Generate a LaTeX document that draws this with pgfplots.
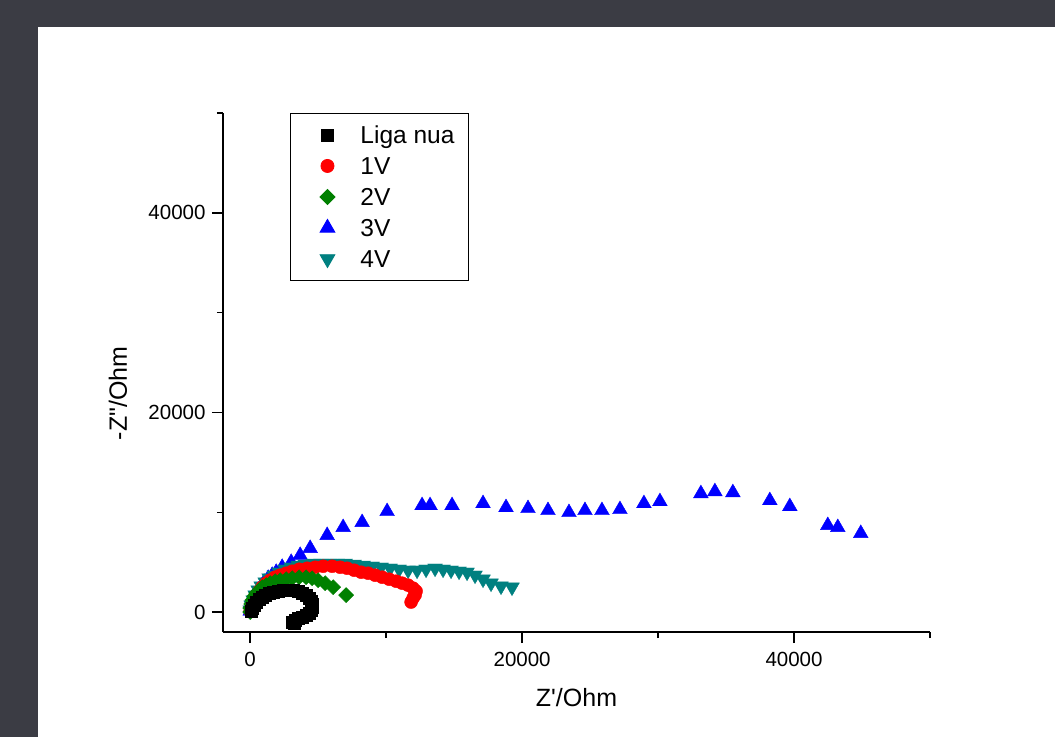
\documentclass[border=0pt]{standalone}
\usepackage{fontspec}
\setmainfont{Liberation Sans}[Ligatures=TeXOff]
\usepackage{pgfplots}
\pgfplotsset{compat=1.18}

\definecolor{framegray}{RGB}{59,60,68}
\definecolor{tealmark}{RGB}{0,128,128}
\definecolor{greenmark}{RGB}{0,128,0}

\pgfplotsset{
  liga/.style={only marks, mark=square*, mark size=6pt, black},
  v1/.style={only marks, mark=*, mark size=6.5pt, red},
  v2/.style={only marks, mark=square*, mark size=5.3pt, mark options={rotate=45}, greenmark},
  v3/.style={only marks, mark=triangle*, mark size=8.5pt, blue},
  v4/.style={only marks, mark=triangle*, mark size=8.5pt, mark options={rotate=180}, tealmark},
}

\begin{document}
\begin{tikzpicture}[x=1pt,y=1pt]
% screenshot frame
\fill[framegray] (0,0) rectangle (1055,737);
\fill[white] (38,0) rectangle (1055,710);

\begin{axis}[
  at={(223pt,105pt)}, anchor=south west,
  scale only axis,
  width=707pt, height=519pt,
  xmin=-2000, xmax=50000,
  ymin=-2000, ymax=50000,
  axis x line*=bottom, axis y line*=left,
  axis line style={line width=1.6pt},
  xtick={0,20000,40000}, minor xtick={10000,30000,50000},
  ytick={0,20000,40000}, minor ytick={10000,30000,50000},
  tick align=outside,
  major tick length=11pt, minor tick length=6pt,
  every tick/.style={black, line width=1.4pt},
  scaled ticks=false,
  /pgf/number format/assume math mode=true,
  /pgf/number format/1000 sep={},
  tick label style={font=\fontsize{20.5}{24}\selectfont},
  xticklabel style={yshift=-6pt},
  yticklabel style={xshift=-3pt},
  xlabel={Z'/Ohm},
  ylabel={-Z"/Ohm},
  label style={font=\fontsize{25}{30}\selectfont},
  xlabel style={at={(axis description cs:0.5,-0.127)}, anchor=center},
  ylabel style={at={(axis description cs:-0.1485,0.46)}, anchor=center},
  legend cell align=left,
  legend image code/.code={
    \path[draw=none] (-26pt,0pt) -- (30pt,0pt);
    \path[#1, draw=none] plot coordinates {(0pt,0pt)};
  },
  legend style={
    at={(axis description cs:0.0948,1)}, anchor=north west,
    draw=black, line width=0.9pt,
    font=\fontsize{24.5}{29}\selectfont,
    inner xsep=11pt, inner ysep=7pt,
    row sep=2pt,
    nodes={inner sep=3pt, text height=20pt, text depth=3pt},
  },
]
\addlegendimage{liga}
\addlegendimage{v1}
\addlegendimage{v2}
\addlegendimage{v3}
\addlegendimage{v4}

% 3V
\addplot[v3, forget plot] coordinates {
  (0,100) (74,499) (147,898) (294,1397) (441,1796) (588,2195)
  (809,2594) (1029,2993) (1323,3392) (1617,3691) (1911,3990)
  (2352,4489) (3014,4988) (3675,5686) (4410,6384) (5660,7681)
  (6836,8479) (8232,8978) (10070,10075) (12642,10673) (13230,10673)
  (14847,10673) (17126,10873) (18816,10474) (20433,10374) (21903,10175)
  (23447,9975) (24623,10175) (25872,10175) (27195,10274) (28959,10873)
  (30135,11072) (33149,11870) (34178,12070) (35501,11970) (38220,11172)
  (39690,10574) (42483,8678) (43218,8479) (44909,7880)
};
% 4V
\addplot[v4, forget plot] coordinates {
  (0,200) (74,698) (221,1197) (368,1696) (588,2195) (809,2594)
  (1103,2993) (1397,3392) (1764,3691) (2132,3990) (2573,4289)
  (3014,4489) (3528,4688) (4043,4788) (4631,4888) (5219,4888)
  (5807,4888) (6395,4888) (6983,4888) (7644,4788) (8306,4688)
  (8967,4589) (9629,4489) (10290,4389) (10952,4289) (11613,4190)
  (12275,4190) (12936,4289) (13598,4389) (14186,4289) (14774,4190)
  (15362,4090) (15950,3990) (16538,3691) (17126,3292) (17714,2893)
  (18449,2594) (19257,2494)
};
% 1V
\addplot[v1, forget plot] coordinates {
  (0,100) (74,499) (147,898) (294,1297) (441,1696) (662,2095)
  (882,2494) (1176,2893) (1470,3192) (1838,3491) (2205,3691)
  (2646,3890) (3087,4090) (3602,4289) (4190,4389) (4778,4489)
  (5366,4589) (6027,4589) (6615,4489) (7130,4389) (7644,4190)
  (8159,3990) (8673,3890) (9188,3691) (9702,3491) (10217,3292)
  (10731,3092) (11172,2893) (11613,2693) (11981,2394) (12201,2095)
  (12128,1696) (11981,1397) (11834,998)
};
% 2V
\addplot[v2, forget plot] coordinates {
  (0,0) (0,399) (74,798) (147,1197) (294,1596) (441,1895)
  (662,2195) (882,2494) (1176,2693) (1470,2893) (1838,3092)
  (2205,3192) (2646,3292) (3087,3392) (3602,3491) (4116,3491)
  (4557,3392) (4998,3192) (5513,2893) (6101,2494) (7056,1696)
};
% Liga nua
\addplot[liga, forget plot] coordinates {
  (74,100) (147,399) (294,698) (441,998) (662,1297) (882,1496)
  (1103,1696) (1397,1895) (1691,1995) (2058,2095) (2426,2195)
  (2793,2195) (3161,2195) (3528,2095) (3822,1895) (4116,1696)
  (4337,1397) (4484,1097) (4557,798) (4557,499) (4484,200)
  (4337,-100) (4116,-299) (3822,-499) (3528,-599) (3308,-798)
  (3087,-998) (3234,-1097)
};
\legend{Liga nua, 1V, 2V, 3V, 4V}
\end{axis}
\end{tikzpicture}
\end{document}
